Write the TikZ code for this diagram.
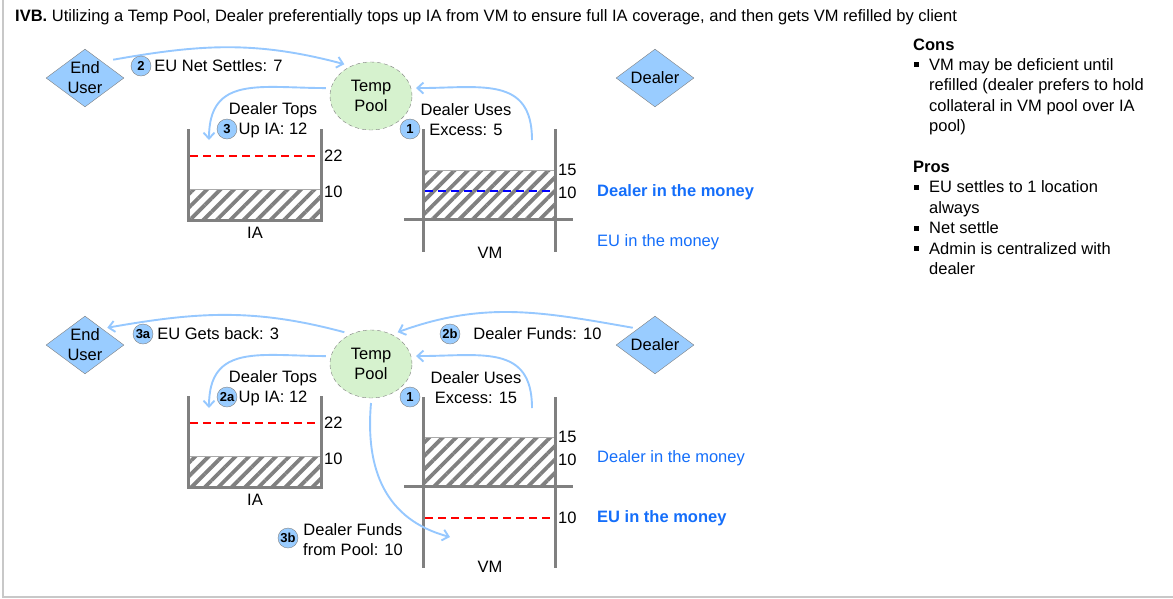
\documentclass[tikz,border=0pt]{standalone}
\usepackage{fontspec}
\setmainfont{Liberation Sans}
\usetikzlibrary{shapes.geometric}
\usetikzlibrary{arrows.meta}
\usetikzlibrary{patterns.meta}
\usetikzlibrary{positioning}

\definecolor{actorblue}{RGB}{153,204,255}
\definecolor{flowblue}{RGB}{150,200,255}
\definecolor{poolgreen}{RGB}{214,242,206}
\definecolor{wallgray}{RGB}{128,128,128}
\definecolor{edgegray}{RGB}{170,170,170}
\definecolor{framegray}{RGB}{200,200,200}
\definecolor{moneyblue}{RGB}{20,110,250}
\definecolor{dashblue}{RGB}{0,0,255}

\begin{document}
\begin{tikzpicture}[
	x=1pt, y=-1pt,
	font=\fontsize{16.5}{20}\selectfont,
	actor/.style={ diamond, draw=wallgray, fill=actorblue, minimum width=81pt, minimum height=61pt, inner sep=0pt, outer sep=4pt },
	pool/.style={ ellipse, draw=wallgray, dash pattern=on 4pt off 3pt, fill=poolgreen, minimum width=82pt, minimum height=68pt, inner sep=0pt, outer sep=5pt, align=center },
	badge/.style={ circle, draw=wallgray, fill=actorblue, minimum size=20pt, inner sep=0pt, font=\fontsize{13}{15}\selectfont\bfseries },
	flow/.style={ flowblue, line width=1.9pt, -{Straight Barb[length=6pt,width=11pt]} },
	wall/.style={ wallgray, line width=3pt },
	hatch/.style={ pattern={Lines[angle=45,distance=9.5pt,line width=3.8pt]}, pattern color=wallgray },
	rim/.style={ edgegray, line width=1pt },
	level/.style={ line width=2pt, dash pattern=on 8pt off 5pt },
	tag/.style={ anchor=west, inner sep=3pt },
	twoline/.style={ align=center, inner sep=0pt },
	note/.style={ anchor=base west, inner sep=0pt },
	bullet/.style={ rectangle, fill=black, minimum size=5pt, inner sep=0pt },
	money/.style={ anchor=west, inner sep=3pt, text=moneyblue }
]

	\useasboundingbox (0,0) rectangle (1173,598);
	\draw[ framegray, line width=2pt ] (3,0) -- (3,597) -- (1173,597);

	\node[ anchor=base west, inner sep=0pt ] (title) at (15,21) {\textbf{IVB.} Utilizing a Temp Pool, Dealer preferentially tops up IA from VM to ensure full IA coverage, and then gets VM refilled by client};

	% IA pools, before and after the top up
	\foreach \yoff [count=\k] in {0,267} {
		\fill[ hatch ] (188,189+\yoff) rectangle (321,220+\yoff);
		\draw[ rim ] (188,189+\yoff) -- (321,189+\yoff);
		\draw[ level, red ] (190,156+\yoff) -- (318,156+\yoff);
		\draw[ wall ] (188,129+\yoff) -- (188,220+\yoff) -- (321,220+\yoff) -- (321,129+\yoff);
		\node[ tag ] (iafull\k) at (321,156+\yoff) {22};
		\node[ tag ] (iahave\k) at (321,192+\yoff) {10};
		\node (ialbl\k) at (255,233+\yoff) {IA};
	}

	% VM pool, dealer in the money
	\fill[ hatch ] (423,170) rectangle (555,219);
	\draw[ rim ] (423,170) -- (555,170);
	\draw[ level, dashblue ] (425,191) -- (552,191);
	\draw[ wall ] (423,129) -- (423,252);
	\draw[ wall ] (555,129) -- (555,252);
	\draw[ wall ] (404,219) -- (573,219);
	\node[ tag ] (vmtop1) at (555,170) {15};
	\node[ tag ] (vmmid1) at (555,193) {10};
	\node[ money, font=\fontsize{16.5}{20}\selectfont\bfseries ] (dlmoney1) at (594,192) {Dealer in the money};
	\node[ money ] (eumoney1) at (594,242) {EU in the money};
	\node (vmlbl1) at (490,253) {VM};

	% VM pool, EU in the money
	\fill[ hatch ] (423,437) rectangle (555,486);
	\draw[ rim ] (423,437) -- (555,437);
	\draw[ level, red ] (425,518) -- (552,518);
	\draw[ wall ] (423,397) -- (423,568);
	\draw[ wall ] (555,397) -- (555,568);
	\draw[ wall ] (404,486) -- (573,486);
	\node[ tag ] (vmtop2) at (555,437) {15};
	\node[ tag ] (vmmid2) at (555,460) {10};
	\node[ tag ] (vmlow2) at (555,518) {10};
	\node[ money ] (dlmoney2) at (594,458) {Dealer in the money};
	\node[ money, font=\fontsize{16.5}{20}\selectfont\bfseries ] (eumoney2) at (594,518) {EU in the money};
	\node (vmlbl2) at (490,567) {VM};

	% parties
	\node[ actor, label={[name=eu1txt, align=center]center:End\\User} ] (eu1) at (85,78) {};
	\node[ pool ] (pool1) at (371,96) {Temp\\Pool};
	\node[ actor, label={[name=dl1txt]center:Dealer} ] (dl1) at (655,78) {};

	\node[ actor, label={[name=eu2txt, align=center]center:End\\User} ] (eu2) at (85,345) {};
	\node[ pool ] (pool2) at (371,364) {Temp\\Pool};
	\node[ actor, label={[name=dl2txt]center:Dealer} ] (dl2) at (655,345) {};

	\coordinate (ia1in) at (209,140);
	\coordinate (vm1out) at (532,140);
	\coordinate (ia2in) at (209,408);
	\coordinate (vm2out) at (532,408);
	\coordinate (vm2in) at (450,537);

	% flows
	\draw[ flow, shorten <=6pt ] (eu1.north east) to[ out=10, in=165 ] (pool1.130);
	\draw[ flow ] (pool1.170) to[ out=180, in=90, looseness=1.3 ] (ia1in);
	\draw[ flow ] (vm1out) to[ out=90, in=0, looseness=1.3 ] (pool1.10);

	\draw[ flow ] (pool2.130) to[ out=165, in=10 ] (eu2.north east);
	\draw[ flow ] (dl2.north west) to[ out=170, in=20 ] (pool2.50);
	\draw[ flow ] (pool2.170) to[ out=180, in=90, looseness=1.3 ] (ia2in);
	\draw[ flow ] (vm2out) to[ out=90, in=0, looseness=1.3 ] (pool2.10);
	\draw[ flow ] (pool2.south) to[ out=-95, in=165, looseness=1.1 ] (vm2in);

	% steps
	\node[ badge ] (st2) at (141,66) {2};
	\node[ tag, right=0pt of st2 ] (settle) {EU Net Settles: 7};
	\node[ twoline ] (tops1) at (273,120.5) {Dealer Tops\\Up IA: 12};
	\node[ badge ] (st3) at (227,129) {3};
	\node[ twoline ] (uses1) at (466,119.5) {Dealer Uses\\Excess: 5};
	\node[ badge ] (st1) at (410,129) {1};

	\node[ badge ] (st3a) at (143,334) {3a};
	\node[ tag, right=1pt of st3a ] (getsback) {EU Gets back: 3};
	\node[ badge ] (st2b) at (450,334) {2b};
	\node[ tag, right=10pt of st2b ] (funds) {Dealer Funds: 10};
	\node[ twoline ] (tops2) at (273,388) {Dealer Tops\\Up IA: 12};
	\node[ badge ] (st2a) at (227,397) {2a};
	\node[ twoline ] (uses2) at (476,387.5) {Dealer Uses\\Excess: 15};
	\node[ badge ] (st1b) at (410,397) {1};
	\node[ twoline ] (frompool) at (353,540) {Dealer Funds\\from Pool: 10};
	\node[ badge ] (st3b) at (288,538) {3b};

	% cons and pros
	\node[ note, font=\fontsize{16.5}{20}\selectfont\bfseries ] (cons) at (913,50) {Cons};
	\foreach \ybase/\linetext [count=\k] in {70/VM may be deficient until, 90.5/refilled (dealer prefers to hold, 111/collateral in VM pool over IA, 131.5/pool)} {
		\node[ note ] (consline\k) at (929,\ybase) {\linetext};
	}
	\node[ note, font=\fontsize{16.5}{20}\selectfont\bfseries ] (pros) at (913,172) {Pros};
	\foreach \ybase/\linetext [count=\k] in {192.5/EU settles to 1 location, 213/always, 233.5/Net settle, 254/Admin is centralized with, 274.5/dealer} {
		\node[ note ] (prosline\k) at (929,\ybase) {\linetext};
	}
	\foreach \ybul [count=\k] in {64.5,187,228,248.5} {
		\node[ bullet ] (dot\k) at (916,\ybul) {};
	}

\end{tikzpicture}
\end{document}
